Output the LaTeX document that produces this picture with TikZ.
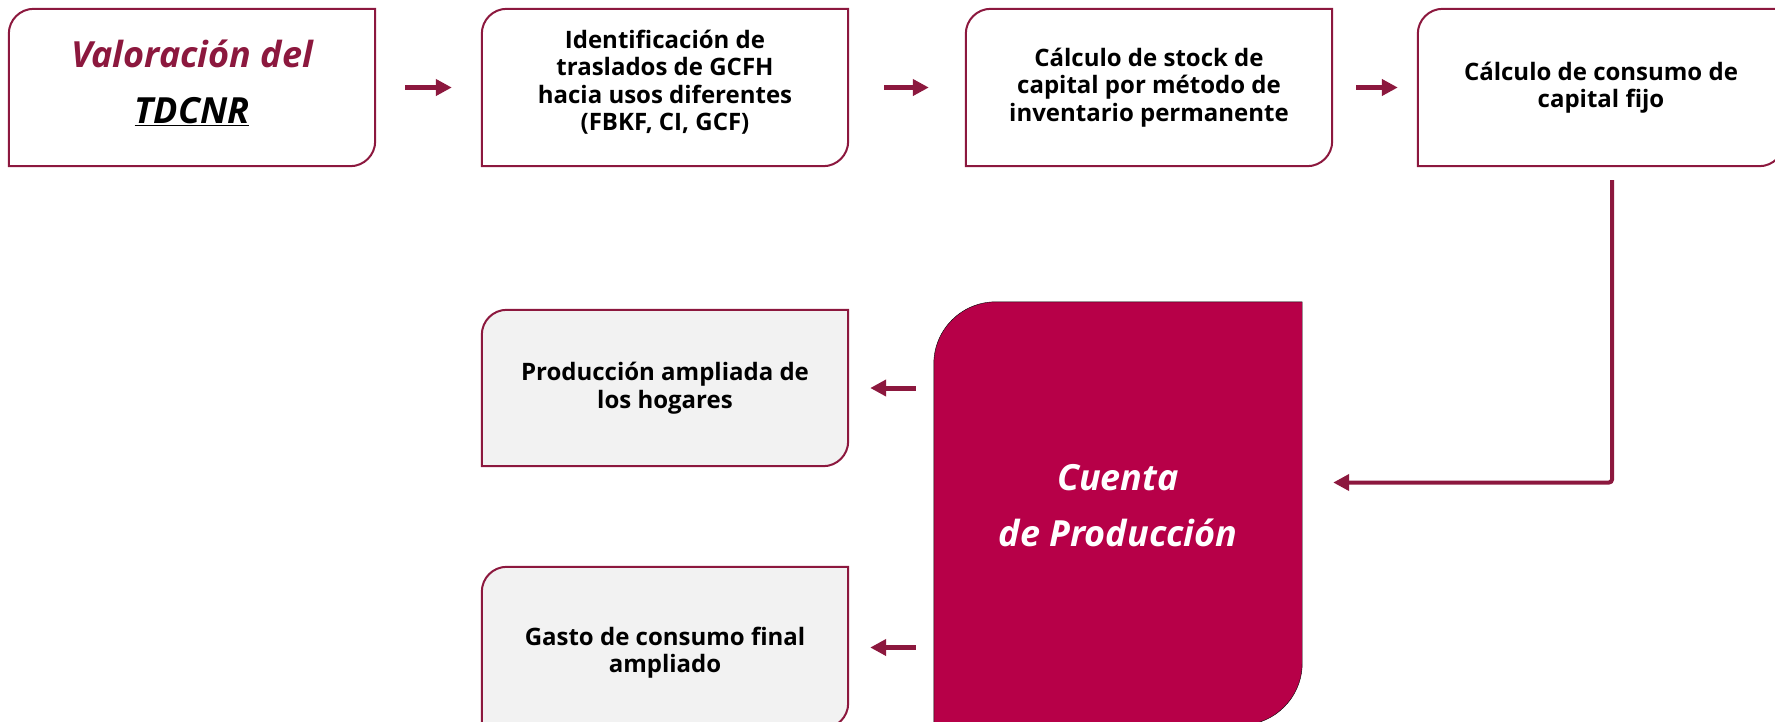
\documentclass[tikz,border=0pt]{standalone}
\usepackage{fontspec}
\setmainfont{Open Sans}
\usepackage{tikz}
\usetikzlibrary{arrows.meta}
\usetikzlibrary{backgrounds}

\definecolor{granate}{RGB}{140,24,62}
\definecolor{carmin}{RGB}{183,0,72}
\definecolor{gris}{RGB}{242,242,242}

\newcommand{\esquinas}[3]{%
  \draw[#1] ([yshift=-#3]#2.north west) arc[start angle=180, end angle=90, radius=#3]
    -- (#2.north east) -- ([yshift=#3]#2.south east)
    arc[start angle=0, end angle=-90, radius=#3] -- (#2.south west) -- cycle;}

\tikzset{
  caja/.style={minimum width=366pt, minimum height=157pt, inner sep=0pt, align=center,
    font=\bfseries\fontsize{24}{27.5}\selectfont},
  grande/.style={font=\bfseries\itshape\fontsize{36}{56}\selectfont},
  borde/.style={draw=granate, line width=2pt, fill=white},
  flecha/.style={-{Triangle[length=16pt, width=16pt]}, draw=granate, line width=5pt},
  conector/.style={-{Triangle[length=16pt, width=16pt]}, draw=granate, line width=4pt, rounded corners=3pt}
}

\begin{document}
\begin{tikzpicture}[x=1pt, y=1pt]
        \useasboundingbox (0, 0) rectangle (1775, -721);

        \draw (192, -87.5) node[caja, grande, text depth=12pt] (valor) {{\color{granate}Valoración del}\\\underline{TDCNR}};
        \draw (665, -87.5) node[caja, text depth=14pt] (trasl) {Identificación de\\traslados de GCFH\\hacia usos diferentes\\(FBKF, CI, GCF)};
        \draw (1149, -87.5) node[caja] (stock) {Cálculo de stock de\\capital por método de\\inventario permanente};
        \draw (1601, -87.5) node[caja] (ckf) {Cálculo de consumo de\\capital fijo};
        \draw (1118, -513.5) node[caja, grande, minimum width=368pt, minimum height=423pt, text depth=16pt, text=white] (cuenta) {Cuenta\\de Producción};
        \draw (665, -388) node[caja, minimum height=156pt] (prodh) {Producción ampliada de\\los hogares};
        \draw (665, -647.5) node[caja, minimum height=161pt, text height=56pt] (gasto) {Gasto de consumo final\\ampliado};
        \coordinate (baja) at (1612, -180);

        \begin{scope}[on background layer]
            \foreach \n in {valor, trasl, stock, ckf}
                \esquinas{borde}{\n}{25pt};
            \foreach \n in {prodh, gasto}
                \esquinas{borde, fill=gris}{\n}{25pt};
            \esquinas{fill=carmin}{cuenta}{62pt};
        \end{scope}

        \draw[flecha, shorten <=30pt, shorten >=30pt] (valor) -- (trasl);
        \draw[flecha, shorten <=36pt, shorten >=37pt] (trasl) -- (stock);
        \draw[flecha, shorten <=24pt, shorten >=20pt] (stock) -- (ckf);
        \draw[flecha, shorten <=18pt, shorten >=22pt] (prodh.east -| cuenta.west) -- (prodh.east);
        \draw[flecha, shorten <=18pt, shorten >=22pt] (gasto.east -| cuenta.west) -- (gasto.east);
        \draw[conector, shorten >=31pt] (baja) |- ([yshift=31pt]cuenta.east);
    \end{tikzpicture}
\end{document}
